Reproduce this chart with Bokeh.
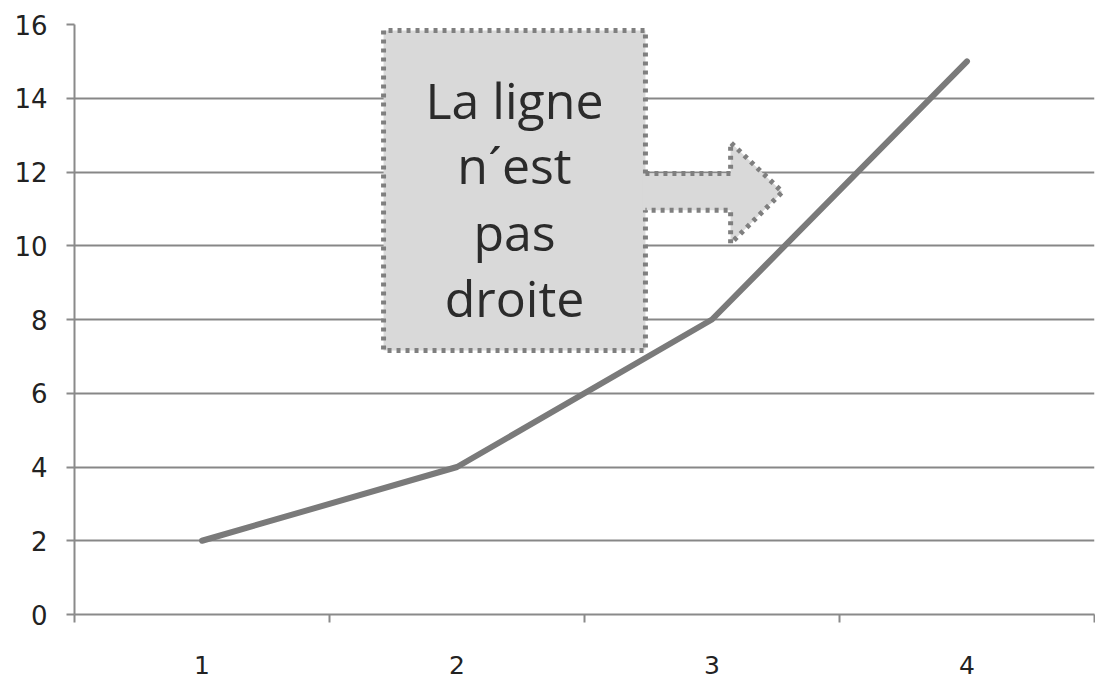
from bokeh.plotting import figure
from bokeh.models import FixedTicker, Range1d
from bokeh.core.properties import value
from bokeh.embed import file_html
from bokeh.resources import INLINE

# Series
categories = [1, 2, 3, 4]
values = [2, 4, 8, 15]
y_ticks = [0, 2, 4, 6, 8, 10, 12, 14, 16]
x_labels = {1: "1", 2: "2", 3: "3", 4: "4"}
note_lines = ["La ligne", "n\u00b4est", "pas", "droite"]

p = figure(width=1095, height=683, output_backend="svg", toolbar_location=None,
           x_range=Range1d(0.5, 4.5), y_range=Range1d(0, 16),
           min_border_left=74, min_border_right=1, min_border_top=24, min_border_bottom=69)
p.outline_line_color = None
p.background_fill_color = "white"
p.border_fill_color = "white"

# Y axis
p.yaxis.ticker = FixedTicker(ticks=y_ticks)
p.yaxis.axis_line_color = "#8a8a8a"
p.yaxis.axis_line_width = 2
p.yaxis.major_tick_line_color = "#8a8a8a"
p.yaxis.major_tick_line_width = 2
p.yaxis.major_tick_out = 8
p.yaxis.major_tick_in = 0
p.yaxis.minor_tick_line_color = None
p.yaxis.major_label_standoff = 19
p.yaxis.major_label_text_font = "DejaVu Sans"
p.yaxis.major_label_text_font_size = "26px"
p.yaxis.major_label_text_color = "#222222"

# X axis: labels at category centres, tick marks at category boundaries
p.xaxis.ticker = FixedTicker(ticks=categories, minor_ticks=[0.5, 1.5, 2.5, 3.5, 4.5])
p.xaxis.major_label_overrides = x_labels
p.xaxis.axis_line_color = "#8a8a8a"
p.xaxis.axis_line_width = 2
p.xaxis.major_tick_line_color = None
p.xaxis.minor_tick_line_color = "#8a8a8a"
p.xaxis.minor_tick_line_width = 2
p.xaxis.minor_tick_out = 8
p.xaxis.minor_tick_in = 0
p.xaxis.major_label_standoff = 33
p.xaxis.major_label_text_font = "DejaVu Sans"
p.xaxis.major_label_text_font_size = "25px"
p.xaxis.major_label_text_color = "#222222"

p.xgrid.grid_line_color = None
p.ygrid.ticker = FixedTicker(ticks=y_ticks)
p.ygrid.grid_line_color = "#878787"
p.ygrid.grid_line_width = 2

# Data line
p.line(categories, values, line_color="#7a7a7a", line_width=6, line_cap="round", line_join="round")

# Callout box with arrow
bx0, bx1, by0, by1 = 1.712, 2.739, 7.16, 15.84
sy0, sy1 = 10.96, 11.96
hx, tx, hy0, hy1, ty = 3.073, 3.276, 10.06, 12.80, 11.46
fill = "#d9d9d9"
edge = "#7f7f7f"

p.quad(left=[bx0], right=[bx1], bottom=[by0], top=[by1], fill_color=fill, line_color=None)
p.patch([bx1 - 0.01, hx, hx, tx, hx, hx, bx1 - 0.01],
        [sy1, sy1, hy1, ty, hy0, sy0, sy0], fill_color=fill, line_color=None)

# dotted outline of box (open where the arrow leaves)
p.line([bx1, bx1, bx0, bx0, bx1, bx1], [sy1, by1, by1, by0, by0, sy0],
       line_color=edge, line_width=5, line_dash="4 5")
p.line([bx1, hx, hx, tx, hx, hx, bx1], [sy1, sy1, hy1, ty, hy0, sy0, sy0],
       line_color=edge, line_width=5, line_dash="4 5")

cx = (bx0 + bx1) / 2
p.text([cx] * 4, [13.94, 12.18, 10.36, 8.57], text=note_lines,
       text_font=value("Open Sans"), text_font_size="50px", text_color="#2b2b2b",
       text_align="center", text_baseline="middle")

open("out.html", "w").write(file_html(p, INLINE))
